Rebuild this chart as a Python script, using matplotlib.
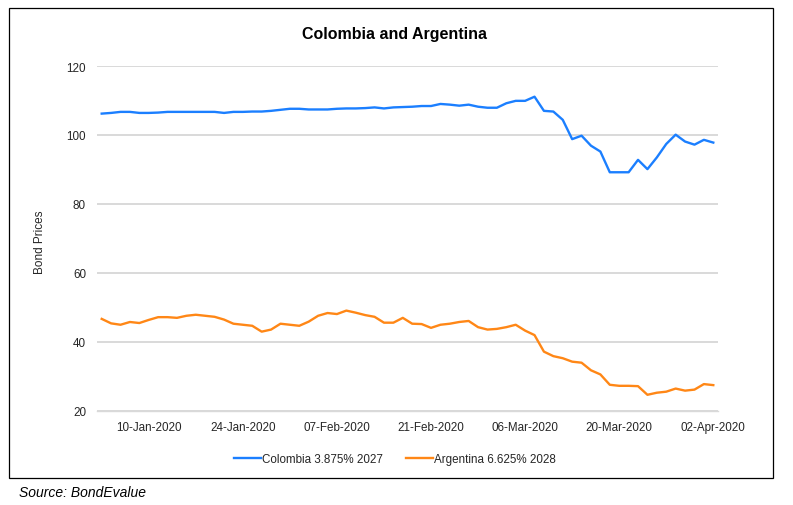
import matplotlib
matplotlib.use("Agg")
import matplotlib.pyplot as plt
from matplotlib.patches import Rectangle

colombia = [106.2, 106.4, 106.7, 106.7, 106.4, 106.4, 106.5, 106.7, 106.7, 106.7,
            106.7, 106.7, 106.7, 106.4, 106.7, 106.7, 106.8, 106.8, 107.0, 107.3,
            107.6, 107.6, 107.4, 107.4, 107.4, 107.6, 107.7, 107.7, 107.8, 108.0,
            107.7, 108.0, 108.1, 108.2, 108.4, 108.4, 109.0, 108.8, 108.5, 108.8,
            108.2, 107.9, 107.9, 109.2, 109.9, 109.9, 111.1, 107.0, 106.8, 104.4,
            98.8, 99.8, 96.9, 95.2, 89.2, 89.2, 89.2, 92.8, 90.1, 93.5,
            97.4, 100.1, 98.1, 97.2, 98.6, 97.8]
argentina = [46.7, 45.4, 45.0, 45.8, 45.5, 46.4, 47.2, 47.2, 47.0, 47.6,
             47.9, 47.6, 47.3, 46.5, 45.3, 45.0, 44.7, 43.0, 43.6, 45.3,
             45.0, 44.7, 45.9, 47.6, 48.4, 48.1, 49.1, 48.5, 47.8, 47.3,
             45.6, 45.6, 47.0, 45.3, 45.2, 44.1, 45.0, 45.3, 45.8, 46.1,
             44.3, 43.6, 43.8, 44.3, 45.0, 43.3, 42.0, 37.2, 35.9, 35.3,
             34.3, 34.0, 31.8, 30.6, 27.6, 27.3, 27.3, 27.2, 24.7, 25.3,
             25.6, 26.5, 25.9, 26.2, 27.8, 27.5]
tick_labels = ["10-Jan-2020", "24-Jan-2020", "07-Feb-2020", "21-Feb-2020",
               "06-Mar-2020", "20-Mar-2020", "02-Apr-2020"]
series_names = ["Colombia 3.875% 2027", "Argentina 6.625% 2028"]
y_ticks = [20, 40, 60, 80, 100, 120]

W, H = 793, 506
fig = plt.figure(figsize=(W / 100, H / 100), dpi=100)
ax = fig.add_axes([97 / W, 1 - 412 / H, (718 - 97) / W, (412 - 67) / H])

narrow = ["Liberation Sans Narrow", "Liberation Sans", "DejaVu Sans"]
regular = ["Liberation Sans", "DejaVu Sans"]

x = list(range(len(colombia)))
ax.plot(x, colombia, color="#1B7FFF", lw=1.7, label=series_names[0], solid_joinstyle="round")
ax.plot(x, argentina, color="#FF8716", lw=1.7, label=series_names[1], solid_joinstyle="round")

ax.set_xlim(-0.5, len(colombia) - 0.5)
ax.set_ylim(20, 120)
ax.set_yticks(y_ticks)
ax.set_xticks(list(range(5, len(colombia), 10)))
ax.set_xticklabels(tick_labels)
for lab in ax.get_xticklabels() + ax.get_yticklabels():
    lab.set_family(narrow)
    lab.set_fontsize(8.4)
    lab.set_color("#262626")
ax.tick_params(axis="both", length=0)
ax.tick_params(axis="y", pad=8)
ax.tick_params(axis="x", pad=7)
ax.grid(axis="y", color="#D9D9D9", lw=1.4)
ax.set_axisbelow(True)
for s in ["top", "right", "left"]:
    ax.spines[s].set_visible(False)
ax.spines["bottom"].set_color("#D9D9D9")
ax.spines["bottom"].set_linewidth(1.0)

fig.text(394 / W, 1 - 34 / H, "Colombia and Argentina", ha="center", va="center",
         fontsize=11.5, fontweight="bold", family=regular, color="black")
fig.text(40 / W, 1 - 242 / H, "Bond Prices", rotation=90, ha="center", va="center",
         fontsize=8.5, family=narrow, color="#262626")

leg = fig.legend(loc="center", bbox_to_anchor=(395 / W, 1 - 460 / H), ncol=2,
                 frameon=False, handlelength=2.3, handletextpad=0.1, columnspacing=2.0,
                 prop={"family": narrow, "size": 8.4})
for t in leg.get_texts():
    t.set_color("#262626")

fig.patches.append(Rectangle((9 / W, 1 - 479 / H), (773 - 9) / W, (479 - 9) / H,
                             transform=fig.transFigure, fill=False, edgecolor="black",
                             lw=0.9))
fig.text(19 / W, 1 - 493 / H, "Source: BondEvalue", ha="left", va="center",
         fontsize=10, style="italic", family=regular, color="black")

fig.savefig("out.png", dpi=100)
